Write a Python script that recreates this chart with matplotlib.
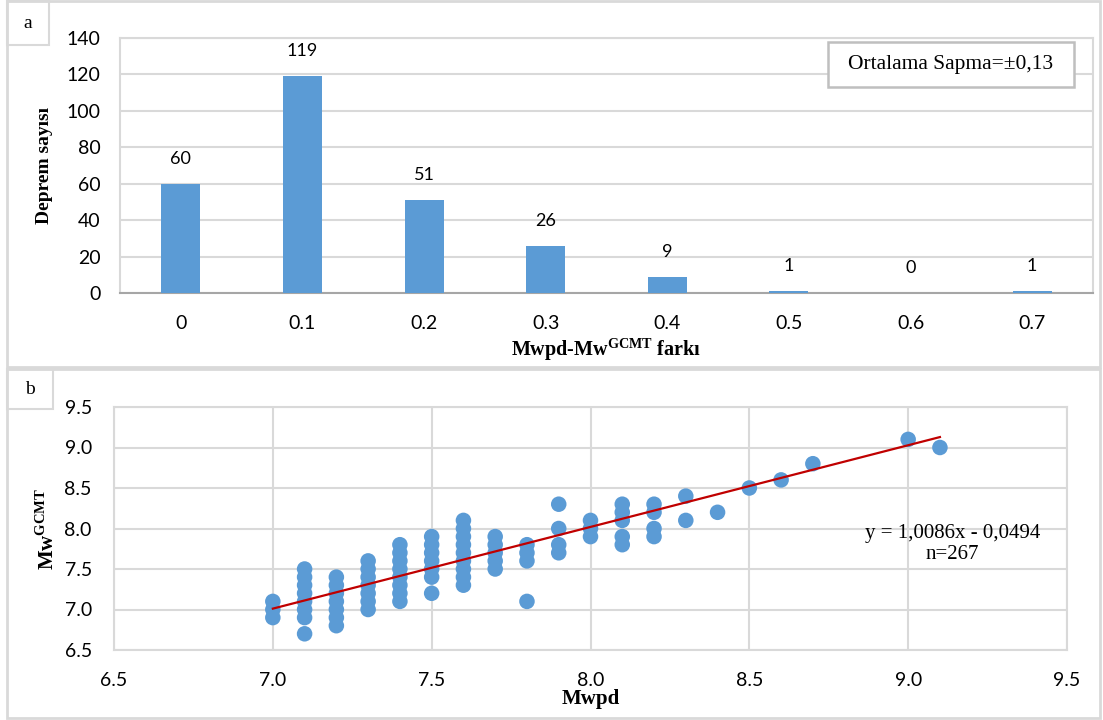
import numpy as np
import matplotlib.pyplot as plt
from matplotlib.patches import Rectangle

plt.rcParams['mathtext.fontset'] = 'custom'
plt.rcParams['mathtext.rm'] = 'Liberation Serif'
plt.rcParams['mathtext.bf'] = 'Liberation Serif:bold'

# --- veri: panel a (histogram) ---
fark_kategori = ['0', '0.1', '0.2', '0.3', '0.4', '0.5', '0.6', '0.7']
deprem_sayisi = [60, 119, 51, 26, 9, 1, 0, 1]

# --- veri: panel b (Mwpd - Mw GCMT) ---
mwpd = [7.0, 7.0, 7.0,
        7.1, 7.1, 7.1, 7.1, 7.1, 7.1, 7.1, 7.1,
        7.2, 7.2, 7.2, 7.2, 7.2, 7.2, 7.2,
        7.3, 7.3, 7.3, 7.3, 7.3, 7.3, 7.3,
        7.4, 7.4, 7.4, 7.4, 7.4, 7.4, 7.4, 7.4,
        7.5, 7.5, 7.5, 7.5, 7.5, 7.5, 7.5,
        7.6, 7.6, 7.6, 7.6, 7.6, 7.6, 7.6, 7.6, 7.6,
        7.7, 7.7, 7.7, 7.7, 7.7,
        7.8, 7.8, 7.8, 7.8,
        7.9, 7.9, 7.9, 7.9,
        8.0, 8.0, 8.0,
        8.1, 8.1, 8.1, 8.1, 8.1,
        8.2, 8.2, 8.2, 8.2,
        8.3, 8.3, 8.4, 8.5, 8.6, 8.7, 9.0, 9.1]
mw_gcmt = [6.9, 7.0, 7.1,
           6.7, 6.9, 7.0, 7.1, 7.2, 7.3, 7.4, 7.5,
           6.8, 6.9, 7.0, 7.1, 7.2, 7.3, 7.4,
           7.0, 7.1, 7.2, 7.3, 7.4, 7.5, 7.6,
           7.1, 7.2, 7.3, 7.4, 7.5, 7.6, 7.7, 7.8,
           7.2, 7.4, 7.5, 7.6, 7.7, 7.8, 7.9,
           7.3, 7.4, 7.5, 7.6, 7.7, 7.8, 7.9, 8.0, 8.1,
           7.5, 7.6, 7.7, 7.8, 7.9,
           7.1, 7.6, 7.7, 7.8,
           7.7, 7.8, 8.0, 8.3,
           7.9, 8.0, 8.1,
           7.8, 7.9, 8.1, 8.2, 8.3,
           7.9, 8.0, 8.2, 8.3,
           8.1, 8.4, 8.2, 8.5, 8.6, 8.8, 9.1, 9.0]
egim, kesim = 1.0086, -0.0494
n_deprem = 267

mavi = '#5b9bd5'
grid_renk = '#d9d9d9'
tick_font = 'Lato'
serif = 'Liberation Serif'

fig = plt.figure(figsize=(11.03, 7.2), dpi=100)
W, H = 1103, 720

def px_rect(x0, y0, x1, y1, **kw):
    r = Rectangle((x0 / W, 1 - y1 / H), (x1 - x0) / W, (y1 - y0) / H,
                  transform=fig.transFigure, **kw)
    fig.patches.append(r)

# panel çerçeveleri
px_rect(7, 1, 1100, 367, fill=False, edgecolor=grid_renk, linewidth=2)
px_rect(7, 369, 1100, 718, fill=False, edgecolor=grid_renk, linewidth=2)
px_rect(7, 1, 49, 45, fill=False, edgecolor=grid_renk, linewidth=1.5)
px_rect(7, 369, 53, 409, fill=False, edgecolor=grid_renk, linewidth=1.5)
fig.text(28 / W, 1 - 24 / H, 'a', family=serif, fontsize=14, ha='center', va='center')
fig.text(30 / W, 1 - 390 / H, 'b', family=serif, fontsize=14, ha='center', va='center')

# ---------------- panel a ----------------
ax1 = fig.add_axes([120 / W, 1 - 293 / H, 973 / W, 255 / H])
x = np.arange(len(fark_kategori))
ax1.bar(x, deprem_sayisi, width=0.32, color=mavi, zorder=3)
for xi, v in zip(x, deprem_sayisi):
    ax1.annotate(str(v), (xi, v), xytext=(0, 18), textcoords='offset points',
                 ha='center', va='center', fontsize=13, family=tick_font)
ax1.set_xlim(-0.5, len(fark_kategori) - 0.5)
ax1.set_ylim(0, 140)
ax1.set_yticks(range(0, 141, 20))
ax1.set_xticks(x)
ax1.set_xticklabels(fark_kategori)
ax1.yaxis.grid(True, color=grid_renk, linewidth=1.5, zorder=0)
ax1.tick_params(length=0, labelsize=14)
ax1.tick_params(axis='y', pad=14)
ax1.tick_params(axis='x', pad=16)
for lab in ax1.get_xticklabels() + ax1.get_yticklabels():
    lab.set_family(tick_font)
for s in ['top', 'right', 'left']:
    ax1.spines[s].set_color(grid_renk)
    ax1.spines[s].set_linewidth(1.5)
ax1.spines['bottom'].set_color('#a6a6a6')
ax1.spines['bottom'].set_linewidth(1.5)
ax1.set_ylabel('Deprem sayısı', family=serif, fontweight='bold', fontsize=14, labelpad=10)
ax1.set_xlabel(r'Mwpd-Mw$^{\mathbf{GCMT}}$ farkı', family=serif, fontweight='bold',
               fontsize=14.5, labelpad=3)

# ortalama sapma kutusu
px_rect(828, 42, 1074, 87, facecolor='white', edgecolor='#bfbfbf', linewidth=1.8, zorder=5)
fig.text(951 / W, 1 - 64 / H, 'Ortalama Sapma=±0,13', ha='center', va='center',
         family=serif, fontsize=15.5, zorder=6)

# ---------------- panel b ----------------
ax2 = fig.add_axes([114 / W, 1 - 650 / H, 953 / W, 243 / H])
ax2.scatter(mwpd, mw_gcmt, s=125, color=mavi, edgecolors='none', zorder=3)
xl = np.array([min(mwpd), max(mwpd)])
ax2.plot(xl, egim * xl + kesim, color='#c00000', linewidth=1.6, zorder=4)
ax2.set_xlim(6.5, 9.5)
ax2.set_ylim(6.5, 9.5)
ax2.set_xticks(np.arange(6.5, 9.51, 0.5))
ax2.set_yticks(np.arange(6.5, 9.51, 0.5))
ax2.xaxis.set_major_formatter(plt.FormatStrFormatter('%.1f'))
ax2.yaxis.set_major_formatter(plt.FormatStrFormatter('%.1f'))
ax2.grid(True, color=grid_renk, linewidth=1.5, zorder=0)
ax2.tick_params(length=0, labelsize=14)
ax2.tick_params(axis='y', pad=16)
ax2.tick_params(axis='x', pad=16)
for lab in ax2.get_xticklabels() + ax2.get_yticklabels():
    lab.set_family(tick_font)
for s in ax2.spines.values():
    s.set_color(grid_renk)
    s.set_linewidth(1.5)
ax2.set_xlabel('Mwpd', family=serif, fontweight='bold', fontsize=15, labelpad=0)
ax2.set_ylabel(r'Mw$^{\mathbf{GCMT}}$', family=serif, fontweight='bold', fontsize=15, labelpad=4)
ax2.text(9.14, 7.81, 'y = 1,0086x - 0,0494\nn=' + str(n_deprem), ha='center', va='center',
         family=serif, fontsize=15, linespacing=1.1, zorder=5)

fig.savefig('out.png', dpi=100)
